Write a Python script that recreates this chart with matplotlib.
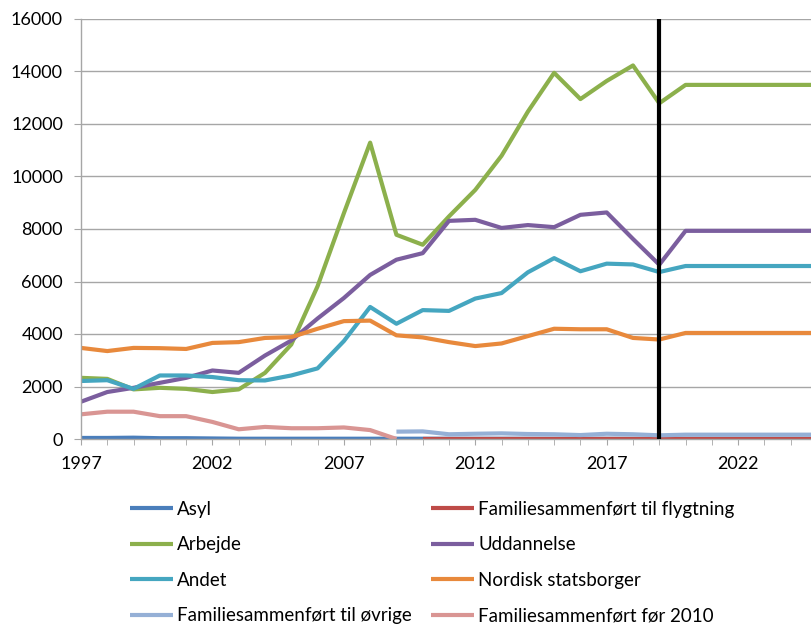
import matplotlib
matplotlib.use("Agg")
import matplotlib.pyplot as plt
import numpy as np

years = list(range(1997, 2026))

asyl = [40, 40, 50, 30, 30, 20, 10, 10, 10, 10, 10, 10, 10, 10,
        10, 10, 10, 10, 10, 10, 10, 10, 10, 10, 10, 10, 10, 10, 10]
flygtning = [None] * 13 + [10, 10, 10, 10, 10, 10, 10, 10, 10, 10, 10, 10, 10, 10, 10, 10]
arbejde = [2330, 2290, 1890, 1950, 1910, 1790, 1890, 2520, 3600, 5820, 8600, 11290, 7780,
           7400, 8480, 9490, 10790, 12470, 13950, 12950, 13640, 14230, 12790,
           13490, 13490, 13490, 13490, 13490, 13490]
uddannelse = [1420, 1790, 1950, 2140, 2330, 2610, 2520, 3180, 3750, 4590, 5370, 6250, 6830,
              7080, 8310, 8350, 8040, 8150, 8070, 8540, 8630, 7620, 6640,
              7930, 7930, 7930, 7930, 7930, 7930]
andet = [2210, 2240, 1910, 2420, 2420, 2360, 2240, 2230, 2420, 2690, 3730, 5030, 4390,
         4910, 4880, 5350, 5560, 6350, 6890, 6390, 6680, 6650, 6360,
         6590, 6590, 6590, 6590, 6590, 6590]
nordisk = [3470, 3350, 3470, 3460, 3430, 3660, 3690, 3850, 3880, 4200, 4490, 4510, 3950,
           3870, 3690, 3540, 3640, 3920, 4200, 4180, 4180, 3850, 3790,
           4040, 4040, 4040, 4040, 4040, 4040]
oevrige = [None] * 12 + [280, 290, 180, 200, 215, 190, 180, 150, 200, 180, 140,
                         165, 165, 165, 165, 165, 165]
foer2010 = [940, 1040, 1040, 870, 870, 650, 370, 460, 410, 410, 440, 340, 0] + [None] * 16

series = [
    ("Asyl", asyl, "#4A7EBB"),
    ("Arbejde", arbejde, "#8CB04C"),
    ("Andet", andet, "#45A6C0"),
    ("Familiesammenført til øvrige", oevrige, "#95B0D6"),
    ("Familiesammenført til flygtning", flygtning, "#BE4B48"),
    ("Uddannelse", uddannelse, "#7B5E9E"),
    ("Nordisk statsborger", nordisk, "#E8893C"),
    ("Familiesammenført før 2010", foer2010, "#D99593"),
]
draw_order = ["Asyl", "Familiesammenført til flygtning", "Arbejde", "Uddannelse",
              "Andet", "Nordisk statsborger", "Familiesammenført til øvrige",
              "Familiesammenført før 2010"]
marker_year = 2019

plt.rcParams['font.family'] = ['Lato', 'DejaVu Sans']

fig = plt.figure(figsize=(8.12, 6.26), dpi=100)
W, H = 812, 626
x0, x1 = 81, 817
y0, y1 = 439, 19
ax = fig.add_axes([x0 / W, 1 - y0 / H, (x1 - x0) / W, (y0 - y1) / H])

handles = {}
for name in draw_order:
    lbl, vals, col = next(s for s in series if s[0] == name)
    v = np.array([np.nan if a is None else a for a in vals], dtype=float)
    h, = ax.plot(years, v, color=col, lw=3, solid_capstyle='butt', clip_on=True)
    handles[name] = h

ax.axvline(marker_year, color='black', lw=3, zorder=5)

ax.set_xlim(1997, 2025)
ax.set_ylim(0, 16000)
ax.set_yticks(np.arange(0, 16001, 2000))
ax.set_xticks(years, minor=True)
ax.set_xticks([1997, 2002, 2007, 2012, 2017, 2022])
ax.yaxis.grid(True, color='#A6A6A6', lw=1)
ax.set_axisbelow(True)
for s in ['top', 'right']:
    ax.spines[s].set_visible(False)
for s in ['left', 'bottom']:
    ax.spines[s].set_color('#A6A6A6')
    ax.spines[s].set_linewidth(1)
ax.tick_params(axis='y', length=5, color='#A6A6A6', labelsize=13, pad=8)
ax.tick_params(axis='x', which='both', length=4, color='#A6A6A6', labelsize=13, pad=8)
ax.tick_params(axis='x', which='minor', length=4)

order = [s[0] for s in series]
leg = fig.legend([handles[n] for n in order], order, ncol=2, frameon=False,
                 loc='upper left', bbox_to_anchor=(130 / W, 1 - 501 / H),
                 borderaxespad=0, borderpad=0, fontsize=13.5, handlelength=2.3,
                 handletextpad=0.2, labelspacing=0.98, columnspacing=1.05)
for line in leg.get_lines():
    line.set_linewidth(3)

fig.savefig("out.png", dpi=100)
